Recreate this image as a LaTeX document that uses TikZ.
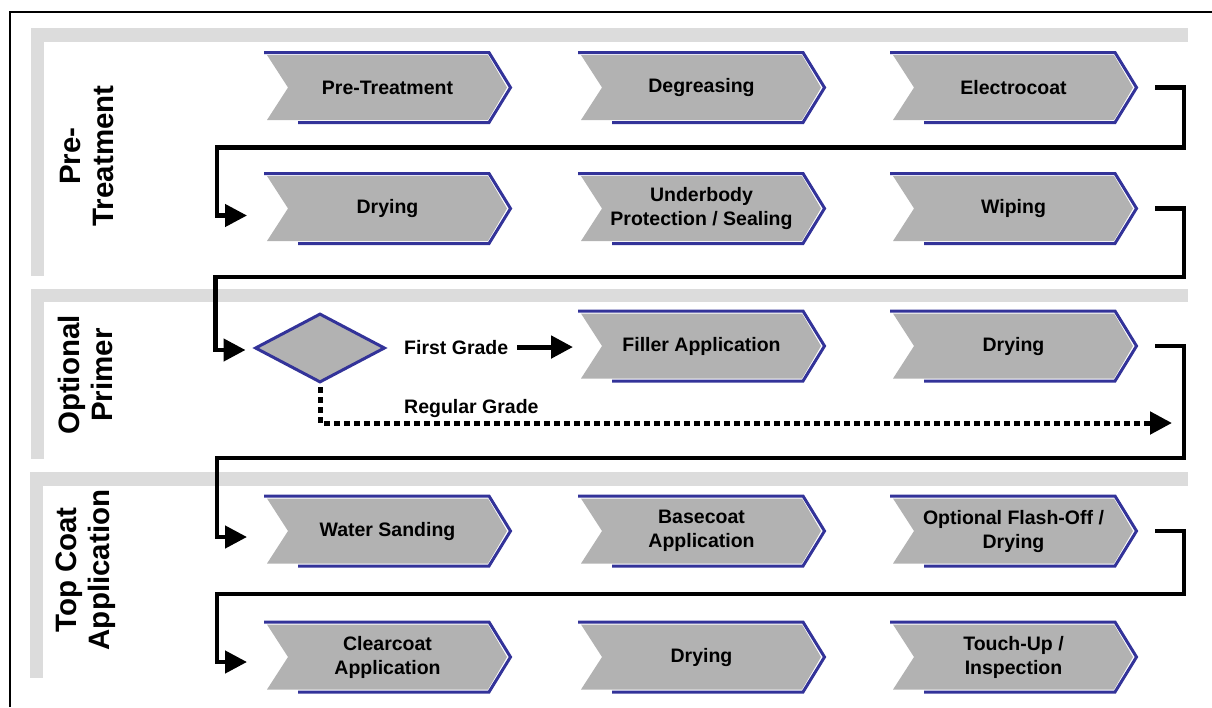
\documentclass[tikz,border=0pt]{standalone}
\usepackage{fontspec}
\setmainfont{Liberation Sans}
\usetikzlibrary{arrows.meta,calc,shapes.geometric}
\definecolor{bandgray}{HTML}{DCDCDC}
\definecolor{chevgray}{HTML}{B2B2B2}
\definecolor{chevblue}{HTML}{333399}
\tikzset{
  chevfill/.style={fill=chevgray},
  chevedge/.style={draw=chevblue,line width=3pt,line join=miter},
  chevtext/.style={minimum width=247pt,minimum height=70pt,inner sep=0pt,outer sep=0pt,align=center,
    font=\fontsize{19.5}{24}\selectfont\bfseries},
  sidelab/.style={rotate=90,align=center,inner sep=0pt,font=\fontsize{29.5}{33}\selectfont\bfseries},
  smalllab/.style={inner sep=0pt,font=\fontsize{19.5}{24}\selectfont\bfseries},
  conn/.style={line width=4.5pt,-{Triangle[length=22pt,width=22pt]}},
  dotconn/.style={line width=5pt,dash pattern=on 6pt off 4pt,-{Triangle[length=22pt,width=22pt]}},
  band/.style={fill=bandgray},
  decision/.style={diamond,draw=chevblue,line width=3pt,fill=chevgray,minimum width=130pt,minimum height=69pt,inner sep=0pt}
}
\newcommand\chevstep[4]{%
  \fill[chevfill] (#2+3,#3-32.5) -- (#2+224,#3-32.5) -- (#2+243,#3) -- (#2+224,#3+32.5) -- (#2+3,#3+32.5) -- (#2+24,#3) -- cycle;
  \draw[chevedge] (#2,#3-35) -- (#2+225,#3-35) -- (#2+246.5,#3) -- (#2+225,#3+35) -- (#2+34,#3+35);
  \node[chevtext] (#1) at (#2+123.5,#3) {#4};
}
\begin{document}
\begin{tikzpicture}[x=1pt,y=-1pt]
\useasboundingbox (0,0) rectangle (1212,707);
% frame
\draw[line width=1.5pt] (10,707) -- (10,12) -- (1212,12);
% bands
\fill[band] (31,28) rectangle (1188,42);
\fill[band] (31,28) rectangle (44,276);
\fill[band] (31,289) rectangle (1188,302);
\fill[band] (31,289) rectangle (44,459);
\fill[band] (30,472) rectangle (1188,486);
\fill[band] (30,472) rectangle (43,678);
% side labels
\node[sidelab] (l1) at (87,156) {Pre-\\Treatment};
\node[sidelab] (l2) at (85,375) {Optional\\Primer};
\node[sidelab] (l3) at (86,570) {Top Coat\\Application};
% row 1
\chevstep{c11}{264}{87.5}{Pre-Treatment}
\chevstep{c12}{578}{87.5}{Degreasing}
\chevstep{c13}{890}{87.5}{Electrocoat}
% row 2
\chevstep{c21}{264}{208.5}{Drying}
\chevstep{c22}{578}{208.5}{Underbody\\Protection / Sealing}
\chevstep{c23}{890}{208.5}{Wiping}
% row 3
\node[decision] (dia) at (320,348) {};
\chevstep{c32}{578}{346}{Filler Application}
\chevstep{c33}{890}{346}{Drying}
\node[smalllab,anchor=base west] (fg) at (404,354) {First Grade};
\node[smalllab,anchor=base west] (rg) at (404,413) {Regular Grade};
\coordinate (rgend) at (1172,423);
% row 4
\chevstep{c41}{264}{531}{Water Sanding}
\chevstep{c42}{578}{531}{Basecoat\\Application}
\chevstep{c43}{890}{531}{Optional Flash-Off /\\Drying}
% row 5
\chevstep{c51}{264}{657}{Clearcoat\\Application}
\chevstep{c52}{578}{657}{Drying}
\chevstep{c53}{890}{657}{Touch-Up /\\Inspection}
% connectors
\draw[conn] ([xshift=18pt]c13.east) -- ++(29,0) |- ($(c21.west)+(-47,-61)$) |- ($(c21.west)+(-17,7)$);
\draw[conn] ([xshift=18pt]c23.east) -- ++(29,0) |- ($(dia.west)+(-38,-71)$) |- ($(dia.west)+(-8,2)$);
\draw[conn] ([xshift=18pt]c33.east) -- ++(29,0) |- ($(c41.west)+(-47,-73)$) |- ($(c41.west)+(-17,6)$);
\draw[conn] ([xshift=18pt]c43.east) -- ++(29,0) |- ($(c51.west)+(-47,-63)$) |- ($(c51.west)+(-17,5)$);
\draw[conn,line width=5pt] ([xshift=9pt]fg.east) -- ([xshift=-5pt]fg.east -| c32.west);
\draw[dotconn] ([yshift=-3pt]dia.south) |- (rgend);
\end{tikzpicture}
\end{document}
